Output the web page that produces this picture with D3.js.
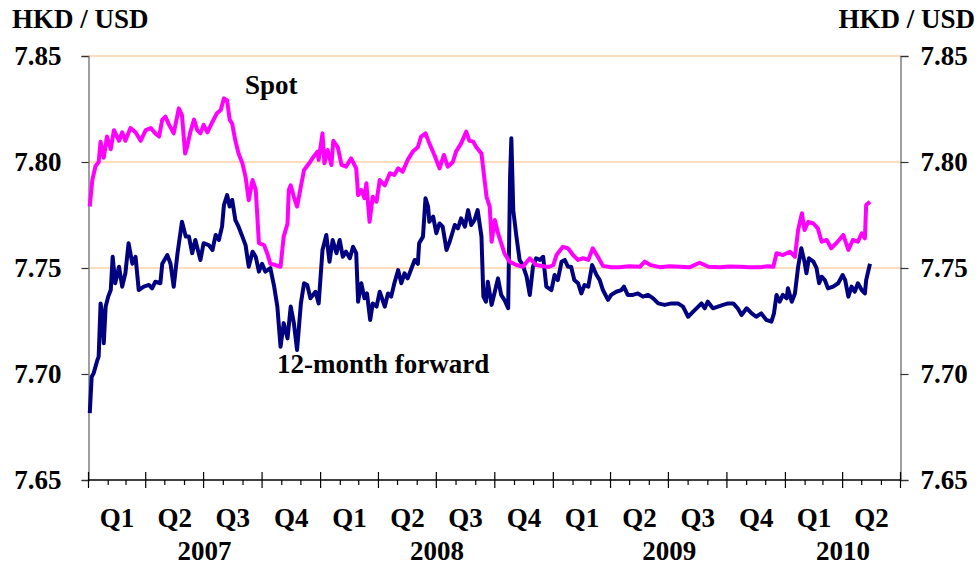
<!DOCTYPE html>
<html>
<head>
<meta charset="utf-8">
<script src="https://cdn.jsdelivr.net/npm/d3@7"></script>
<style>
    body { margin: 0; background: #fff; }
    text { font-family: "Liberation Serif", "Times New Roman", serif; font-weight: bold; fill: #000; }
</style>
</head>
<body>
<div id="chart"></div>
<script>
// day offsets counted from 1 Jan 2007, values in HKD per USD
const startDate = new Date(2007, 0, 1);

const spotDays = [2, 6, 11, 16, 19, 24, 29, 35, 40, 48, 53, 58, 66, 74, 82, 90, 98, 105, 111, 116,
    121, 126, 134, 142, 147, 152, 155, 160, 166, 171, 176, 181, 187, 195, 202, 208, 213, 218, 222, 226,
    231, 236, 242, 247, 252, 258, 263, 268, 276, 281, 286, 294, 302, 307, 313, 315, 318, 323, 328, 334,
    339, 347, 354, 360, 362, 368, 371, 376, 382, 385, 392, 398, 405, 413, 421, 424, 429, 434, 437, 442,
    447, 453, 458, 466, 474, 481, 487, 494, 502, 510, 518, 523, 530, 536, 544, 552, 559, 565, 573, 578,
    586, 594, 599, 605, 610, 618, 621, 626, 631, 634, 639, 644, 649, 654, 662, 673, 683, 694, 704, 720,
    725, 731, 736, 746, 754, 762, 770, 778, 786, 793, 801, 809, 822, 835, 850, 867, 875, 883, 898, 914,
    930, 945, 961, 975, 993, 1008, 1024, 1040, 1056, 1068, 1077, 1082, 1092, 1103, 1111, 1116, 1122, 1126, 1132, 1140,
    1147, 1153, 1161, 1168, 1176, 1187, 1195, 1202, 1210, 1216, 1221, 1223, 1229];
const spotValues = [7.779, 7.7915, 7.798, 7.800, 7.8096, 7.802, 7.812, 7.806, 7.815, 7.810, 7.814, 7.810, 7.816, 7.814, 7.810, 7.815, 7.816, 7.8135, 7.812, 7.820,
    7.8214, 7.818, 7.8135, 7.8253, 7.822, 7.804, 7.807, 7.814, 7.820, 7.815, 7.8135, 7.8175, 7.814, 7.819, 7.823, 7.8245, 7.830, 7.829, 7.820, 7.818,
    7.810, 7.804, 7.7994, 7.793, 7.782, 7.7915, 7.787, 7.7617, 7.7608, 7.757, 7.752, 7.7514, 7.7506, 7.7648, 7.771, 7.7868, 7.789, 7.7836, 7.779, 7.7885,
    7.7962, 7.7994, 7.8025, 7.8049, 7.801, 7.8135, 7.7994, 7.8057, 7.7986, 7.810, 7.807, 7.7986, 7.7978, 7.8017, 7.797, 7.7844, 7.7868, 7.7829, 7.790, 7.7718,
    7.7836, 7.7813, 7.7915, 7.789, 7.7947, 7.7939, 7.797, 7.7954, 7.801, 7.8049, 7.807, 7.812, 7.8135, 7.8088, 7.8033, 7.797, 7.8033, 7.7978, 7.800, 7.8049,
    7.8088, 7.8143, 7.810, 7.8096, 7.807, 7.804, 7.7962, 7.7836, 7.779, 7.7624, 7.7726, 7.7664, 7.7617, 7.757, 7.753, 7.7514, 7.7506, 7.7546, 7.7514, 7.7506,
    7.7506, 7.7514, 7.7561, 7.760, 7.7593, 7.7561, 7.7538, 7.7546, 7.7538, 7.7593, 7.7553, 7.751, 7.7504, 7.7504, 7.7508, 7.7506, 7.7530, 7.7515, 7.7504, 7.7508,
    7.7506, 7.7503, 7.7525, 7.7506, 7.7504, 7.7507, 7.7506, 7.7503, 7.7504, 7.7508, 7.7506, 7.757, 7.7561, 7.7577, 7.7553, 7.7679, 7.7758, 7.7679, 7.7718, 7.771,
    7.7687, 7.7624, 7.7632, 7.7593, 7.7617, 7.7656, 7.7585, 7.7632, 7.7624, 7.7664, 7.764, 7.7797, 7.7813];

const fwdDays = [2, 5, 8, 14, 16, 19, 22, 24, 27, 31, 35, 38, 42, 48, 53, 58, 63, 69, 74, 79,
    87, 95, 100, 105, 113, 116, 124, 129, 134, 140, 147, 153, 158, 163, 168, 176, 181, 189, 195, 200,
    205, 210, 213, 218, 222, 226, 231, 236, 242, 247, 252, 258, 263, 268, 273, 278, 286, 292, 297, 302,
    307, 313, 318, 323, 328, 334, 339, 344, 349, 357, 362, 368, 374, 379, 384, 390, 395, 400, 405, 411,
    416, 421, 424, 429, 434, 438, 443, 447, 453, 458, 466, 471, 476, 481, 487, 492, 497, 502, 508, 513,
    518, 520, 526, 530, 534, 536, 542, 547, 552, 557, 563, 568, 576, 581, 586, 592, 597, 602, 607, 612,
    618, 621, 625, 628, 634, 639, 644, 649, 654, 660, 663, 665, 668, 673, 678, 683, 689, 694, 699, 704,
    710, 715, 720, 728, 733, 738, 744, 749, 754, 759, 764, 770, 775, 780, 786, 792, 799, 804, 809, 817,
    822, 830, 838, 842, 848, 856, 864, 872, 880, 888, 896, 906, 917, 927, 935, 943, 951, 959, 964, 969,
    974, 982, 990, 998, 1006, 1014, 1021, 1027, 1035, 1043, 1050, 1058, 1066, 1074, 1078, 1082, 1087, 1092, 1098, 1100,
    1106, 1111, 1116, 1121, 1126, 1129, 1133, 1140, 1145, 1149, 1153, 1158, 1163, 1171, 1179, 1186, 1190, 1195, 1200, 1205,
    1210, 1216, 1221, 1223, 1229];
const fwdValues = [7.6815, 7.6987, 7.7003, 7.7066, 7.7082, 7.7333, 7.727, 7.7145, 7.7318, 7.7365, 7.7396, 7.7553, 7.7428, 7.7506, 7.7412, 7.7475, 7.7617, 7.752, 7.7553, 7.7396,
    7.7412, 7.742, 7.7404, 7.7435, 7.7428, 7.752, 7.7561, 7.752, 7.7412, 7.757, 7.7718, 7.7648, 7.7648, 7.757, 7.7632, 7.7538, 7.7617, 7.7608, 7.7585, 7.7656,
    7.7632, 7.7695, 7.7797, 7.7844, 7.779, 7.7821, 7.7726, 7.7695, 7.7648, 7.7608, 7.7506, 7.7577, 7.7553, 7.7483, 7.752, 7.7483, 7.7499, 7.7412, 7.7318, 7.7129,
    7.724, 7.7168, 7.7318, 7.724, 7.7113, 7.7333, 7.7428, 7.742, 7.7357, 7.7388, 7.7333, 7.7585, 7.7656, 7.753, 7.7632, 7.757, 7.7632, 7.7553, 7.7577, 7.7546,
    7.760, 7.757, 7.7341, 7.7428, 7.7357, 7.738, 7.7255, 7.7333, 7.7318, 7.7388, 7.7318, 7.738, 7.7365, 7.7428, 7.749, 7.7428, 7.7475, 7.7451, 7.7499, 7.7538,
    7.752, 7.7617, 7.7648, 7.7829, 7.779, 7.7718, 7.7742, 7.7664, 7.771, 7.7695, 7.7585, 7.7624, 7.7703, 7.7687, 7.7734, 7.7695, 7.7773, 7.7703, 7.7726, 7.7773,
    7.7648, 7.7365, 7.7341, 7.7435, 7.7326, 7.7388, 7.7451, 7.7373, 7.735, 7.731, 7.793, 7.8112, 7.7773, 7.7648, 7.7538, 7.7514, 7.7459, 7.7373, 7.7506, 7.7546,
    7.7538, 7.7553, 7.7412, 7.7396, 7.7467, 7.7443, 7.753, 7.7538, 7.7506, 7.7506, 7.7443, 7.7428, 7.738, 7.742, 7.7412, 7.7514, 7.7467, 7.7443, 7.7396, 7.735,
    7.7373, 7.7388, 7.7396, 7.7412, 7.7373, 7.7373, 7.738, 7.7365, 7.7373, 7.7357, 7.7333, 7.7326, 7.7333, 7.7333, 7.7318, 7.727, 7.7294, 7.7318, 7.7333, 7.731,
    7.7341, 7.731, 7.7318, 7.7326, 7.7333, 7.7333, 7.731, 7.7278, 7.731, 7.7286, 7.727, 7.7286, 7.7255, 7.7247, 7.7286, 7.7373, 7.7341, 7.7373, 7.7357, 7.7404,
    7.7341, 7.738, 7.7506, 7.7593, 7.753, 7.7475, 7.7546, 7.753, 7.7499, 7.7428, 7.7459, 7.7443, 7.7404, 7.7412, 7.7428, 7.7467, 7.7443, 7.7365, 7.7412, 7.7388,
    7.7428, 7.7396, 7.738, 7.7443, 7.752];

const yTicks = [7.65, 7.70, 7.75, 7.80, 7.85];
const gridValues = [7.75, 7.80, 7.85];
const quarterLabels = ["Q1", "Q2", "Q3", "Q4"];
const yearLabels = ["2007", "2008", "2009", "2010"];
const unitLabel = "HKD / USD";

const width = 980;
const height = 569;
const plotLeft = 88.5, plotRight = 900.5, plotTop = 56, plotBottom = 480;

let svg = d3.select("#chart").append("svg").attr("width", width).attr("height", height);

let endDate = new Date(2010, 6, 1);
let x = d3.scaleTime().domain([startDate, endDate]).range([plotLeft, plotRight]);
let y = d3.scaleLinear().domain([7.65, 7.85]).range([plotBottom, plotTop]);

// grid lines
svg.append("g").selectAll("line").data(gridValues).enter().append("line")
    .attr("x1", plotLeft).attr("x2", plotRight)
    .attr("y1", (d) => y(d)).attr("y2", (d) => y(d))
    .attr("stroke", "#fcd2a8").attr("stroke-width", 1.5);

// left and right value axes
let leftAxis = svg.append("g").attr("transform", `translate(${plotLeft},0)`)
    .call(d3.axisLeft(y).tickValues(yTicks).tickSize(7).tickPadding(20).tickFormat(d3.format(".2f")));
let rightAxis = svg.append("g").attr("transform", `translate(${plotRight},0)`)
    .call(d3.axisRight(y).tickValues(yTicks).tickSize(8).tickPadding(12).tickFormat(d3.format(".2f")));
[leftAxis, rightAxis].forEach((a) => {
    a.select(".domain").attr("stroke", "#808080").attr("stroke-width", 1.5);
    a.selectAll(".tick line").attr("stroke", "#333").attr("stroke-width", 1.2);
    a.selectAll("text").attr("font-size", 27).attr("font-family", null).attr("fill", "#000");
});

// time axis: quarter ticks across the line, month ticks below it
let quarters = d3.timeMonth.every(3).range(startDate, d3.timeDay.offset(endDate, 1));
let months = d3.timeMonth.range(startDate, endDate).filter((d) => d.getMonth() % 3 != 0);

let xg = svg.append("g");
xg.append("line").attr("x1", plotLeft).attr("x2", plotRight).attr("y1", plotBottom).attr("y2", plotBottom)
    .attr("stroke", "#000").attr("stroke-width", 1.5);
xg.selectAll(".major").data(quarters).enter().append("line")
    .attr("x1", (d) => x(d)).attr("x2", (d) => x(d))
    .attr("y1", plotBottom - 8).attr("y2", plotBottom + 8)
    .attr("stroke", "#000").attr("stroke-width", 1.2);
xg.selectAll(".minor").data(months).enter().append("line")
    .attr("x1", (d) => x(d)).attr("x2", (d) => x(d))
    .attr("y1", plotBottom).attr("y2", plotBottom + 5)
    .attr("stroke", "#000").attr("stroke-width", 1.2);

xg.selectAll(".qlabel").data(quarters.slice(0, -1)).enter().append("text")
    .attr("x", (d) => (x(d) + x(d3.timeMonth.offset(d, 3))) / 2)
    .attr("y", 527).attr("text-anchor", "middle").attr("font-size", 27)
    .text((d) => quarterLabels[Math.floor(d.getMonth() / 3)]);

xg.selectAll(".ylabel").data(yearLabels).enter().append("text")
    .attr("x", (d) => {
        let a = new Date(+d, 0, 1);
        let b = d3.min([new Date(+d + 1, 0, 1), endDate]);
        return (x(a) + x(b)) / 2;
    })
    .attr("y", 560).attr("text-anchor", "middle").attr("font-size", 27)
    .text((d) => d);

// series
let line = d3.line()
    .x((d) => x(d3.timeDay.offset(startDate, d[0])))
    .y((d) => y(d[1]));

svg.append("path").datum(fwdDays.map((d, i) => [d, fwdValues[i]]))
    .attr("d", line).attr("fill", "none").attr("stroke", "#000080")
    .attr("stroke-width", 4).attr("stroke-linejoin", "round");
svg.append("path").datum(spotDays.map((d, i) => [d, spotValues[i]]))
    .attr("d", line).attr("fill", "none").attr("stroke", "#ff00ff")
    .attr("stroke-width", 4).attr("stroke-linejoin", "round");

// labels
svg.append("text").attr("x", 12).attr("y", 28).attr("font-size", 27).text(unitLabel);
svg.append("text").attr("x", 975).attr("y", 28).attr("font-size", 27).attr("text-anchor", "end").text(unitLabel);
svg.append("text").attr("x", 245).attr("y", 94).attr("font-size", 27).text("Spot");
svg.append("text").attr("x", 277).attr("y", 373).attr("font-size", 27).text("12-month forward");
</script>
</body>
</html>
